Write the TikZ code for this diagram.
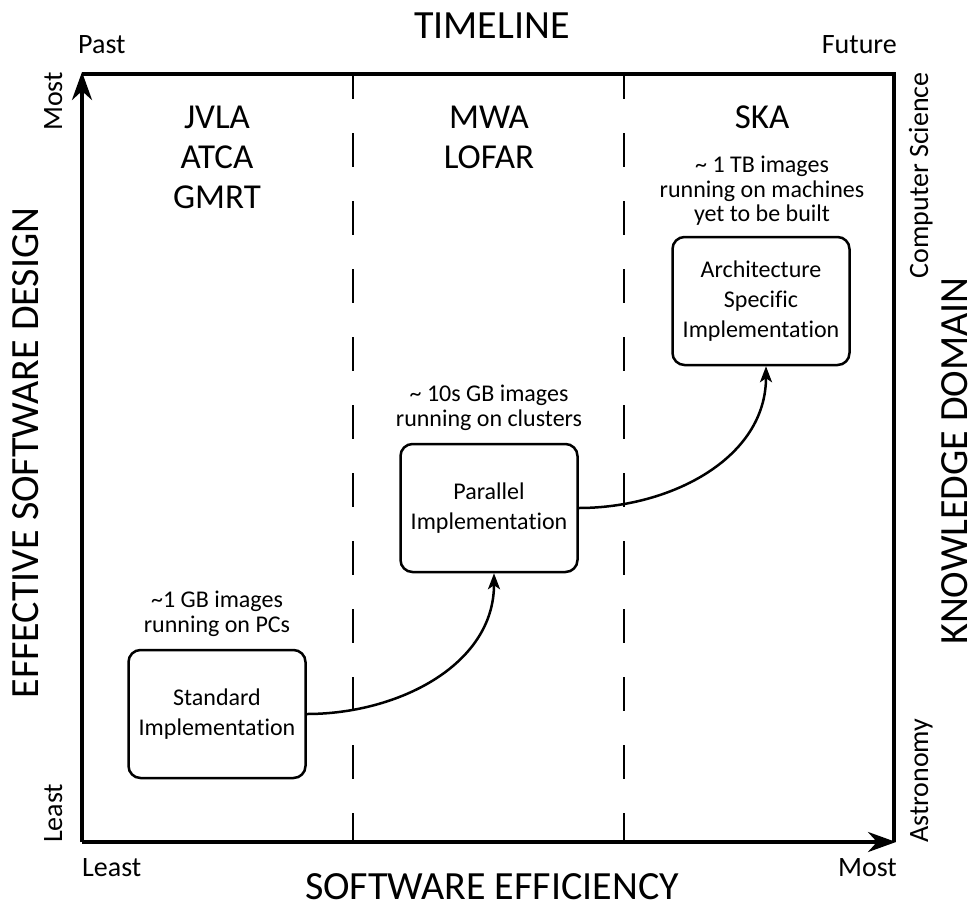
\documentclass[tikz,border=0pt]{standalone}
\usepackage{fontspec}
\setmainfont{Carlito}[Ligatures=NoCommon]
\usetikzlibrary{arrows.meta}

\begin{document}
\begin{tikzpicture}[
        x=1pt, y=-1pt,
        biglabel/.style={font=\fontsize{40}{48}\selectfont, inner sep=0},
        axislabel/.style={font=\fontsize{28}{34}\selectfont, inner sep=0},
        telescopes/.style={font=\fontsize{35}{40}\selectfont, align=center, inner sep=0, anchor=north},
        note/.style={font=\fontsize{24}{24.5}\selectfont, align=center, inner sep=0, anchor=north},
        impl/.style={draw, line width=2.5pt, rounded corners=12pt, minimum width=177pt,
            minimum height=128pt, align=center, font=\fontsize{24}{30}\selectfont},
        flow/.style={line width=2.5pt, -{Stealth[length=16pt,width=12pt,inset=4pt]}},
        axis/.style={line width=4pt, -{Stealth[length=28pt,width=20pt,inset=9pt]}},
        era/.style={line width=2pt, dash pattern=on 34pt off 34pt, dash phase=9pt}
    ]
        \useasboundingbox (0,0) rectangle (973,907);
        \coordinate (origin) at (82,842);
        \coordinate (ytip) at (82,72);
        \coordinate (xtip) at (896,842);
        \coordinate (topleft) at (82,74);
        \coordinate (corner) at (894,74);
        \coordinate (bottomright) at (894,842);

        \draw[line width=4pt] (topleft) -- (corner) -- (bottomright);
        \draw[era] (353,74) -- (353,842);
        \draw[era] (624,74) -- (624,842);
        \draw[axis] (origin) -- (ytip);
        \draw[axis] (origin) -- (xtip);

        \node[biglabel, anchor=base] (timeline) at (492,39) {TIMELINE};
        \node[biglabel, anchor=base] (efficiency) at (492,899) {SOFTWARE EFFICIENCY};
        \node[biglabel, anchor=base, rotate=90] (design) at (38,453) {EFFECTIVE SOFTWARE DESIGN};
        \node[biglabel, anchor=base, rotate=90] (domain) at (967,461) {KNOWLEDGE DOMAIN};

        \node[axislabel, anchor=base west] (past) at (78,53) {Past};
        \node[axislabel, anchor=base east] (future) at (897,53) {Future};
        \node[axislabel, anchor=base west] (xleast) at (82,876) {Least};
        \node[axislabel, anchor=base east] (xmost) at (897,876) {Most};
        \node[axislabel, anchor=base east, rotate=90] (ymost) at (62,72) {Most};
        \node[axislabel, anchor=base west, rotate=90] (yleast) at (62,843) {Least};
        \node[axislabel, anchor=base east, rotate=90] (cs) at (928,72) {Computer Science};
        \node[axislabel, anchor=base west, rotate=90] (astro) at (928,843) {Astronomy};

        \node[telescopes] (now) at (217,106) {JVLA\\ATCA\\GMRT};
        \node[telescopes] (next) at (489,106) {MWA\\LOFAR};
        \node[telescopes] (ska) at (762,106) {SKA};

        \node[note] (gbnote) at (217,591) {\textasciitilde1 GB images\\running on PCs};
        \node[note] (tensnote) at (489,385) {\textasciitilde{} 10s GB images\\running on clusters};
        \node[note] (tbnote) at (762,156) {\textasciitilde{} 1 TB images\\running on machines\\yet to be built};

        \node[impl] (std) at (217,714) {Standard\\Implementation};
        \node[impl] (par) at (489,508) {Parallel\\Implementation};
        \node[impl] (arch) at (761,301) {Architecture\\Specific\\Implementation};

        \draw[flow] (std.east) to [out=0,in=-90] ([xshift=5pt]par.south);
        \draw[flow] (par.east) to [out=0,in=-90] ([xshift=5pt]arch.south);
    \end{tikzpicture}
\end{document}
